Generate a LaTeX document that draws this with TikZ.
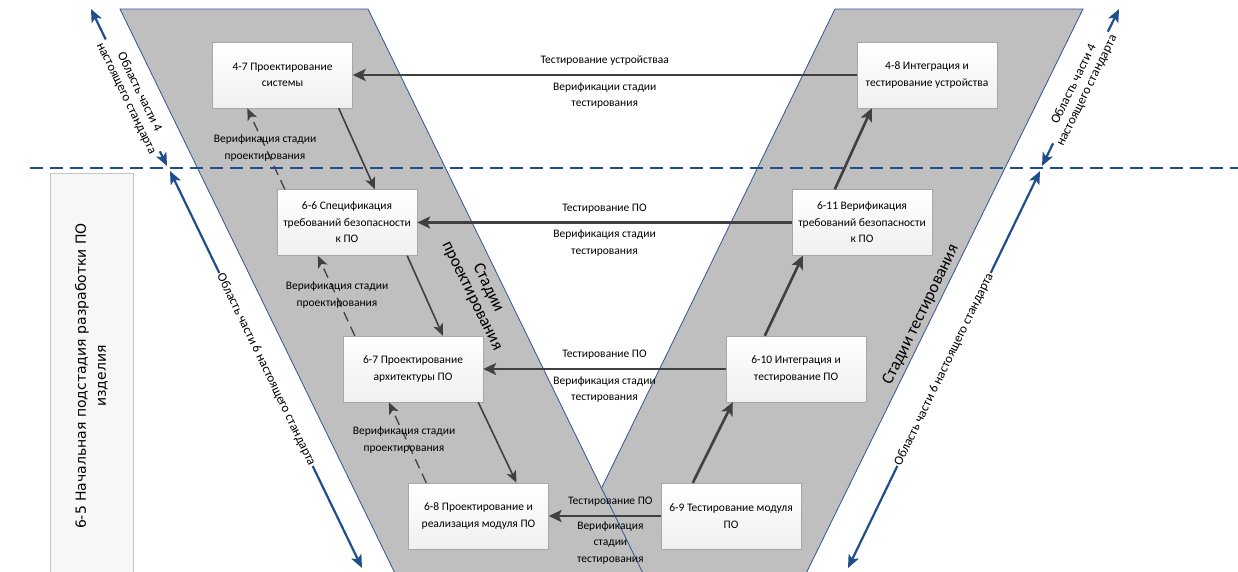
\documentclass[tikz,border=0pt]{standalone}
\usepackage{fontspec}
\setmainfont{Carlito}
\newfontfamily\dejavu{DejaVu Sans}
\usetikzlibrary{arrows.meta}
\definecolor{bandgray}{RGB}{191,191,191}
\definecolor{edgeblue}{RGB}{47,85,151}
\definecolor{areablue}{RGB}{31,78,140}
\definecolor{arrowgray}{RGB}{64,64,64}
\begin{document}
\begin{tikzpicture}[x=1pt,y=-1pt,
  band/.style={fill=bandgray,draw=edgeblue,line width=0.8pt},
  stagebox/.style={draw=gray!70,top color=white,bottom color=gray!12,
    minimum width=140pt,minimum height=66pt,inner sep=2pt,align=center,
    font=\fontsize{11.5}{16.5}\selectfont},
  flow/.style={draw=arrowgray,line width=2.6pt,-{Stealth[length=13pt,width=12pt,inset=3pt]}},
  down/.style={draw=arrowgray,line width=1.6pt,-{Stealth[length=12pt,width=10pt,inset=3pt]}},
  verif/.style={draw=arrowgray,line width=1.3pt,dash pattern=on 10pt off 6pt,
    -{Stealth[length=12pt,width=10pt,inset=3pt]}},
  note/.style={align=center,font=\fontsize{11.5}{16.5}\selectfont},
  area/.style={draw=areablue,line width=2.2pt,
    {Stealth[length=13pt,width=11pt,inset=3pt]}-{Stealth[length=13pt,width=11pt,inset=3pt]}},
  arealabel/.style={fill=white,inner sep=1pt,align=center,
    font=\fontsize{13}{14.5}\selectfont},
  stagename/.style={align=center,font=\fontsize{17}{18}\selectfont}]
\useasboundingbox (0,0) rectangle (1238,571);
\clip (0,0) rectangle (1238,571);

% stage bands
\path[band] (835,9) -- (1083,9) -- (793,600) -- (547,600) -- cycle;
\path[band] (120,9) -- (368,9) -- (656,600) -- (408,600) -- cycle;

% border between part 4 and part 6
\draw[areablue,line width=1.8pt,dash pattern=on 13pt off 7pt] (30,168) -- (1238,168);

% initial substage
\node[draw=gray!45,fill=gray!6,rotate=90,minimum width=406pt,minimum height=83pt,
  align=center,font=\dejavu\fontsize{14}{20}\selectfont] (s65) at (91.5,376)
  {6-5 Начальная подстадия разработки ПО\\изделия};

% design and testing stages
\node[stagebox] (s47) at (282.5,75) {4-7 Проектирование\\системы};
\node[stagebox] (s48) at (927,75) {4-8 Интеграция и\\тестирование устройства};
\node[stagebox] (s66) at (347,222.5) {6-6 Спецификация\\требований безопасности\\к ПО};
\node[stagebox] (s611) at (862,222.5) {6-11 Верификация\\требований безопасности\\к ПО};
\node[stagebox] (s67) at (413,369) {6-7 Проектирование\\архитектуры ПО};
\node[stagebox] (s610) at (796,369) {6-10 Интеграция и\\тестирование ПО};
\node[stagebox] (s68) at (478.5,516) {6-8 Проектирование и\\реализация модуля ПО};
\node[stagebox] (s69) at (731,516) {6-9 Тестирование модуля\\ПО};

\node[stagename,rotate=-64] (design) at (480,292) {Стадии\\проектирования};
\node[stagename,rotate=64] (testing) at (921,315) {Стадии тестирования};

% testing back to design
\draw[flow] (s48) -- node[note,above=5pt] {Тестирование устройстваа}
  node[note,below=3pt] {Верификации стадии\\тестирования} (s47);
\draw[flow] (s611) -- node[note,above=5pt] {Тестирование ПО}
  node[note,below=3pt] {Верификация стадии\\тестирования} (s66);
\draw[flow] (s610) -- node[note,above=5pt] {Тестирование ПО}
  node[note,below=3pt] {Верификация стадии\\тестирования} (s67);
\draw[flow] (s69) -- node[note,above=5pt,pos=0.45] {Тестирование ПО}
  node[note,below=1pt,pos=0.45] {Верификация\\стадии\\тестирования} (s68);

% design going down
\draw[down] ([xshift=-14pt]s47.south east) -- ([xshift=28pt]s66.north);
\draw[down] ([xshift=-10pt]s66.south east) -- ([xshift=30pt]s67.north);
\draw[down] ([xshift=-5pt]s67.south east) -- ([xshift=38pt]s68.north);

% verification of design
\draw[verif] ([xshift=8pt]s66.north west) -- ([xshift=35pt]s47.south west);
\draw[verif] ([xshift=12pt]s67.north west) -- ([xshift=41pt]s66.south west);
\draw[verif] ([xshift=18pt]s68.north west) -- ([xshift=46pt]s67.south west);
\node[note] (v1) at (265,148) {Верификация стадии\\проектирования};
\node[note] (v2) at (337,295) {Верификация стадии\\проектирования};
\node[note] (v3) at (404,440) {Верификация стадии\\проектирования};

% testing going up
\draw[flow] ([xshift=32pt]s69.north west) -- ([xshift=7pt]s610.south west);
\draw[flow] ([xshift=39pt]s610.north west) -- ([xshift=11pt]s611.south west);
\draw[flow] ([xshift=43pt]s611.north west) -- ([xshift=15pt]s48.south west);

% scope of the parts
\coordinate (a4lt) at (91,9);
\coordinate (a4lb) at (167,166);
\coordinate (a6lt) at (170,171);
\coordinate (a6lb) at (362,568);
\coordinate (a4rb) at (1042,166);
\coordinate (a4rt) at (1119,9);
\coordinate (a6rt) at (1040,171);
\coordinate (a6rb) at (848,568);
\draw[area] (a4lt) -- node[arealabel,sloped,pos=0.55] {Область части 4\\настоящего стандарта} (a4lb);
\draw[area] (a6lt) -- node[arealabel,sloped] {Область части 6 настоящего стандарта} (a6lb);
\draw[area] (a4rb) -- node[arealabel,sloped] {Область части 4\\настоящего стандарта} (a4rt);
\draw[area] (a6rb) -- node[arealabel,sloped] {Область части 6 настоящего стандарта} (a6rt);
\end{tikzpicture}
\end{document}
